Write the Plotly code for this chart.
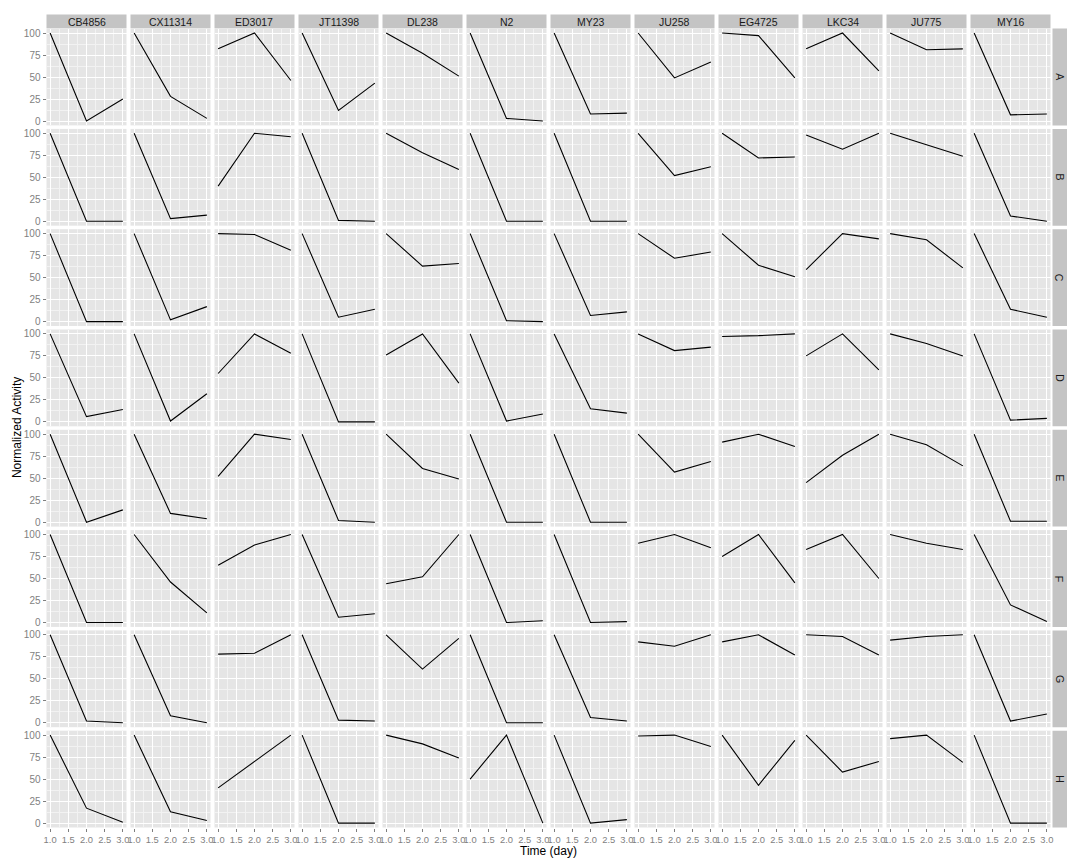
import plotly.graph_objects as go

W, H = 1080, 864

strains = ["CB4856", "CX11314", "ED3017", "JT11398", "DL238", "N2",
           "MY23", "JU258", "EG4725", "LKC34", "JU775", "MY16"]
groups = ["A", "B", "C", "D", "E", "F", "G", "H"]
days = [1, 2, 3]

row_A = [[100, 0, 25], [100, 28, 3], [82, 100, 46], [100, 12, 43], [100, 77, 51], [100, 3, 0],
         [100, 8, 9], [100, 49, 67], [100, 97, 49], [82, 100, 57], [100, 81, 82], [100, 7, 8]]
row_B = [[100, 0, 0], [100, 3, 7], [40, 100, 96], [100, 1, 0], [100, 78, 59], [100, 0, 0],
         [100, 0, 0], [100, 52, 62], [100, 72, 73], [98, 82, 100], [100, 87, 74], [100, 6, 0]]
row_C = [[100, 0, 0], [100, 2, 17], [100, 99, 81], [100, 5, 14], [100, 63, 66], [100, 1, 0],
         [100, 7, 11], [100, 72, 79], [100, 64, 51], [59, 100, 94], [100, 93, 61], [100, 14, 5]]
row_D = [[100, 6, 14], [100, 1, 32], [55, 100, 78], [100, 0, 0], [76, 100, 44], [100, 1, 9],
         [100, 15, 10], [100, 81, 85], [97, 98, 100], [75, 100, 59], [100, 89, 75], [100, 2, 4]]
row_E = [[100, 0, 14], [100, 10, 4], [52, 100, 94], [100, 2, 0], [100, 61, 49], [100, 0, 0],
         [100, 0, 0], [100, 57, 69], [91, 100, 86], [45, 76, 100], [100, 88, 64], [100, 1, 1]]
row_F = [[100, 0, 0], [100, 46, 11], [65, 88, 100], [100, 6, 10], [44, 52, 100], [100, 0, 2],
         [100, 0, 1], [90, 100, 85], [75, 100, 45], [83, 100, 50], [100, 90, 83], [100, 20, 1]]
row_G = [[100, 2, 0], [100, 8, 0], [78, 79, 100], [100, 3, 2], [100, 61, 96], [100, 0, 0],
         [100, 6, 2], [92, 87, 100], [92, 100, 77], [100, 98, 77], [94, 98, 100], [100, 2, 10]]
row_H = [[100, 17, 1], [100, 13, 3], [40, 70, 100], [100, 0, 0], [100, 90, 74], [50, 100, 0],
         [100, 0, 4], [99, 100, 87], [100, 43, 94], [100, 58, 70], [96, 100, 69], [100, 0, 0]]
rows_data = [row_A, row_B, row_C, row_D, row_E, row_F, row_G, row_H]

x_ticks = [1.0, 1.5, 2.0, 2.5, 3.0]
x_ticklabels = ["1.0", "1.5", "2.0", "2.5", "3.0"]
y_ticks = [0, 25, 50, 75, 100]
y_ticklabels = ["0", "25", "50", "75", "100"]

# layout geometry (pixels)
X0, PW, PX = 46.5, 80.0, 84.0
Y0, PH, PY = 28.6, 96.8, 100.3
STRIP_TOP_H = 14.0
STRIP_R_X0, STRIP_R_W = 1052.5, 14.5

def px(x):
    return x / W

def py(y):
    return 1 - y / H

fig = go.Figure()
layout = dict()
shapes = []
annotations = []
nR, nC = len(groups), len(strains)

for r in range(nR):
    for c in range(nC):
        k = r * nC + c + 1
        xs = "" if k == 1 else str(k)
        fig.add_trace(go.Scatter(
            x=days, y=rows_data[r][c], mode="lines",
            line=dict(color="black", width=1.1),
            xaxis="x" + xs, yaxis="y" + xs, showlegend=False, hoverinfo="skip"))
        left = X0 + c * PX
        top = Y0 + r * PY
        xdom = [px(left), px(left + PW)]
        ydom = [py(top + PH), py(top)]
        bottom_row = (r == nR - 1)
        left_col = (c == 0)
        layout["xaxis" + xs] = dict(
            domain=xdom, anchor="y" + xs, range=[0.9, 3.1],
            tickvals=x_ticks, ticktext=x_ticklabels,
            showticklabels=bottom_row, ticks="outside" if bottom_row else "",
            ticklen=3, tickwidth=1, tickcolor="#7F7F7F",
            tickfont=dict(family="Liberation Sans, Arial", size=9.4, color="#7F7F7F"),
            showgrid=True, gridcolor="#FFFFFF", gridwidth=1.1,
            minor=dict(tickvals=[1.25, 1.75, 2.25, 2.75], showgrid=True,
                       gridcolor="#F2F2F2", gridwidth=0.6),
            zeroline=False, showline=False, automargin=False, fixedrange=True)
        layout["yaxis" + xs] = dict(
            domain=ydom, anchor="x" + xs, range=[-5, 105],
            tickvals=y_ticks, ticktext=y_ticklabels,
            showticklabels=left_col, ticks="outside" if left_col else "",
            ticklen=3, tickwidth=1, tickcolor="#7F7F7F",
            tickfont=dict(family="Liberation Sans, Arial", size=10, color="#7F7F7F"),
            showgrid=True, gridcolor="#FFFFFF", gridwidth=1.1,
            minor=dict(tickvals=[12.5, 37.5, 62.5, 87.5], showgrid=True,
                       gridcolor="#F2F2F2", gridwidth=0.6),
            zeroline=False, showline=False, automargin=False, fixedrange=True)

# top strips
for c, name in enumerate(strains):
    left = X0 + c * PX
    shapes.append(dict(type="rect", xref="paper", yref="paper",
                       x0=px(left), x1=px(left + PW),
                       y0=py(Y0 - 0.3), y1=py(Y0 - STRIP_TOP_H),
                       fillcolor="#C4C4C4", line=dict(width=0), layer="below"))
    annotations.append(dict(text=name, xref="paper", yref="paper",
                            x=px(left + PW / 2), y=py(Y0 - STRIP_TOP_H / 2),
                            showarrow=False, xanchor="center", yanchor="middle",
                            font=dict(family="Liberation Sans, Arial", size=10.5, color="#1A1A1A")))
# right strips
for r, g in enumerate(groups):
    top = Y0 + r * PY
    shapes.append(dict(type="rect", xref="paper", yref="paper",
                       x0=px(STRIP_R_X0), x1=px(STRIP_R_X0 + STRIP_R_W),
                       y0=py(top + PH), y1=py(top),
                       fillcolor="#C4C4C4", line=dict(width=0), layer="below"))
    annotations.append(dict(text=g, xref="paper", yref="paper",
                            x=px(STRIP_R_X0 + STRIP_R_W / 2), y=py(top + PH / 2),
                            showarrow=False, xanchor="center", yanchor="middle", textangle=90,
                            font=dict(family="Liberation Sans, Arial", size=10.5, color="#1A1A1A")))

# axis titles
annotations.append(dict(text="Time (day)", xref="paper", yref="paper",
                        x=px(X0 + (nC * PX - (PX - PW)) / 2), y=py(851),
                        showarrow=False, xanchor="center", yanchor="middle",
                        font=dict(family="Liberation Sans, Arial", size=12, color="black")))
annotations.append(dict(text="Normalized Activity", xref="paper", yref="paper",
                        x=px(17), y=py(Y0 + (nR * PY - (PY - PH)) / 2),
                        showarrow=False, xanchor="center", yanchor="middle", textangle=-90,
                        font=dict(family="Liberation Sans, Arial", size=12, color="black")))

fig.update_layout(
    width=W, height=H,
    margin=dict(l=0, r=0, t=0, b=0),
    paper_bgcolor="white", plot_bgcolor="#E5E5E5",
    shapes=shapes, annotations=annotations, showlegend=False,
    **layout)

fig.write_html("out.html")
